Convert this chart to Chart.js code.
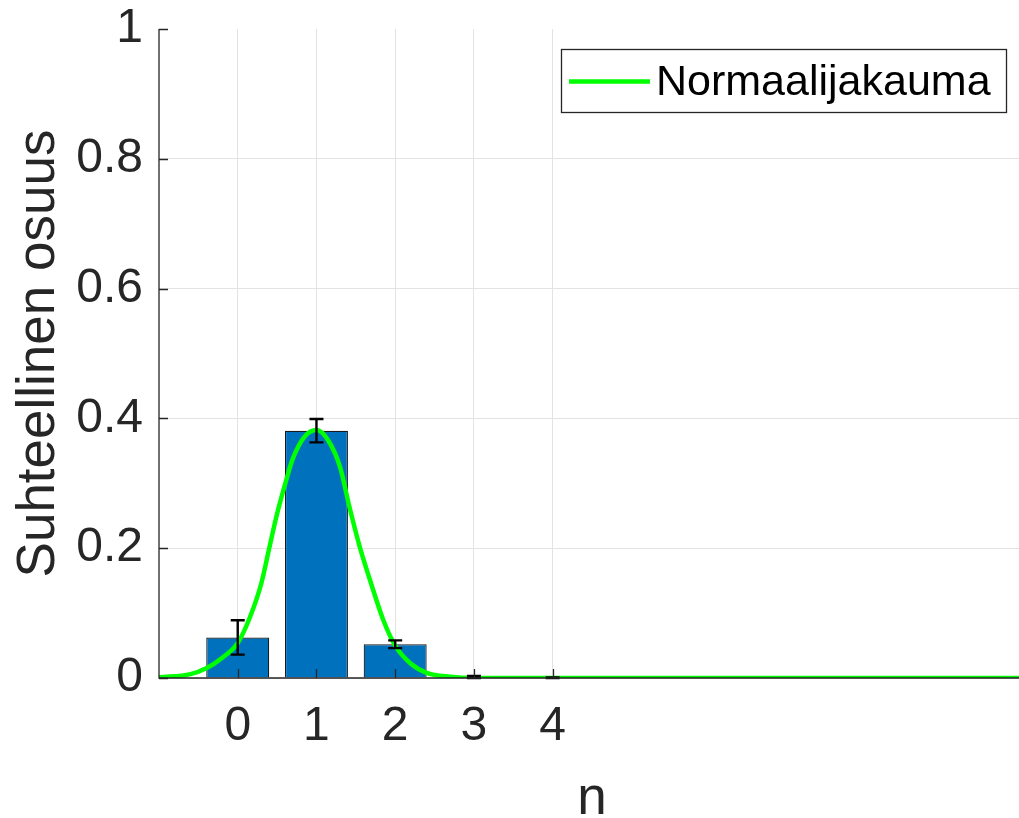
<!DOCTYPE html>
<html>
<head>
<meta charset="utf-8">
<script src="https://cdn.jsdelivr.net/npm/chart.js@4.4.1/dist/chart.umd.min.js"></script>
<style>
  html, body { margin: 0; padding: 0; background: #ffffff; overflow: hidden; }
  #wrap { width: 1030px; height: 818px; }
</style>
</head>
<body>
<div id="wrap"><canvas id="c" width="1030" height="818"></canvas></div>
<script>
// Histogram of n with error bars
const nValues = [0, 1, 2, 3, 4];
const shares = [0.0625, 0.381, 0.052, 0.001, 0.0];
const shareErrors = [0.0265, 0.018, 0.006, 0.002, 0.001];

// Fitted normal distribution, sampled along n
const curveN = [-1.0, -0.6, -0.4, -0.2, 0.0, 0.15, 0.3, 0.4, 0.5, 0.6, 0.7, 0.85, 1.0,
                1.15, 1.3, 1.42, 1.55, 1.68, 1.85, 2.0, 2.2, 2.4, 2.7, 3.0, 10.0];
const curveP = [0.001, 0.006, 0.015, 0.031, 0.054, 0.092, 0.146, 0.200, 0.253, 0.298, 0.338, 0.372, 0.382,
                0.366, 0.325, 0.263, 0.202, 0.151, 0.089, 0.050, 0.022, 0.008, 0.002, 0.0, 0.0];

const xTicks = [0, 1, 2, 3, 4];
const yTicks = [0, 0.2, 0.4, 0.6, 0.8, 1];
const legendLabel = 'Normaalijakauma';
const xTitle = 'n';
const yTitle = 'Suhteellinen osuus';

const FONT = '"Liberation Sans", Arial, Helvetica, sans-serif';
const AXIS_COLOR = '#262626';
const GRID_COLOR = '#e3e3e3';

// Error bars, axis lines with inward ticks, and the legend box
const overlay = {
  id: 'overlay',
  afterDatasetsDraw(chart) {
    const ctx = chart.ctx;
    const xs = chart.scales.x, ys = chart.scales.y;
    const area = chart.chartArea;
    ctx.save();

    // error bars
    ctx.strokeStyle = '#000000';
    ctx.lineWidth = 2.4;
    const cap = 7;
    for (let i = 0; i < nValues.length; i++) {
      const px = xs.getPixelForValue(nValues[i]);
      const lo = ys.getPixelForValue(Math.max(0, shares[i] - shareErrors[i]));
      const hi = ys.getPixelForValue(shares[i] + shareErrors[i]);
      ctx.beginPath();
      ctx.moveTo(px, lo); ctx.lineTo(px, hi);
      ctx.moveTo(px - cap, lo); ctx.lineTo(px + cap, lo);
      ctx.moveTo(px - cap, hi); ctx.lineTo(px + cap, hi);
      ctx.stroke();
    }

    // axis lines
    ctx.strokeStyle = AXIS_COLOR;
    ctx.lineWidth = 1.3;
    ctx.beginPath();
    ctx.moveTo(area.left, area.top);
    ctx.lineTo(area.left, area.bottom);
    ctx.lineTo(area.right, area.bottom);
    ctx.stroke();

    // inward tick marks
    const tl = 9;
    ctx.beginPath();
    yTicks.forEach(v => {
      const py = Math.round(ys.getPixelForValue(v)) + 0.5;
      ctx.moveTo(area.left, py); ctx.lineTo(area.left + tl, py);
    });
    xTicks.forEach(v => {
      const px = Math.round(xs.getPixelForValue(v)) + 0.5;
      ctx.moveTo(px, area.bottom); ctx.lineTo(px, area.bottom - tl);
    });
    ctx.stroke();

    // legend
    const bx = 561, by = 49, bw = 445, bh = 63;
    ctx.fillStyle = '#ffffff';
    ctx.fillRect(bx, by, bw, bh);
    ctx.strokeStyle = '#262626';
    ctx.lineWidth = 1.3;
    ctx.strokeRect(bx + 0.5, by + 0.5, bw, bh);
    ctx.strokeStyle = '#00ff00';
    ctx.lineWidth = 4.5;
    ctx.beginPath();
    ctx.moveTo(569, 81.5); ctx.lineTo(650, 81.5);
    ctx.stroke();
    ctx.fillStyle = '#000000';
    ctx.font = '43px ' + FONT;
    ctx.textBaseline = 'middle';
    ctx.textAlign = 'left';
    ctx.fillText(legendLabel, 656, 83);
    ctx.restore();
  }
};

new Chart(document.getElementById('c'), {
  type: 'bar',
  data: {
    datasets: [
      {
        type: 'line',
        label: legendLabel,
        data: curveN.map((x, i) => ({ x: x, y: curveP[i] })),
        borderColor: '#00ff00',
        borderWidth: 4.5,
        pointRadius: 0,
        cubicInterpolationMode: 'monotone',
        fill: false,
        order: 1
      },
      {
        type: 'bar',
        label: 'Osuus',
        data: nValues.map((x, i) => ({ x: x, y: shares[i] })),
        backgroundColor: '#0072bd',
        borderColor: '#1a1a1a',
        borderWidth: 1.2,
        barPercentage: 0.8,
        categoryPercentage: 1.0,
        order: 2
      }
    ]
  },
  plugins: [overlay],
  options: {
    responsive: false,
    animation: false,
    devicePixelRatio: 1,
    layout: { padding: { top: 29, right: 5, left: 0, bottom: 0 } },
    plugins: {
      legend: { display: false },
      tooltip: { enabled: false }
    },
    scales: {
      x: {
        type: 'linear',
        min: -1,
        max: 10,
        offset: false,
        afterBuildTicks: s => { s.ticks = xTicks.map(v => ({ value: v })); },
        afterFit: s => { s.height = 140; s.paddingLeft = 0; s.paddingRight = 0; },
        grid: { color: GRID_COLOR, lineWidth: 1, drawTicks: false, offset: false },
        border: { display: false },
        ticks: {
          color: AXIS_COLOR,
          font: { family: FONT, size: 48 },
          padding: 20,
          maxRotation: 0,
          autoSkip: false
        },
        title: {
          display: true,
          text: xTitle,
          color: AXIS_COLOR,
          font: { family: FONT, size: 53, lineHeight: 0.7 },
          padding: { top: 0, bottom: 0 }
        }
      },
      y: {
        type: 'linear',
        min: 0,
        max: 1,
        afterBuildTicks: s => { s.ticks = yTicks.map(v => ({ value: v })); },
        afterFit: s => { s.width = 159; s.paddingTop = 0; s.paddingBottom = 0; },
        grid: {
          color: ctx => (ctx.tick && ctx.tick.value === 1) ? 'rgba(0,0,0,0)' : GRID_COLOR,
          lineWidth: 1,
          drawTicks: false
        },
        border: { display: false },
        ticks: {
          color: AXIS_COLOR,
          font: { family: FONT, size: 48 },
          padding: 16,
          callback: v => String(v)
        },
        title: {
          display: true,
          text: yTitle,
          color: AXIS_COLOR,
          font: { family: FONT, size: 53, lineHeight: 1 },
          padding: { top: 13, bottom: 0 }
        }
      }
    }
  }
});
</script>
</body>
</html>
